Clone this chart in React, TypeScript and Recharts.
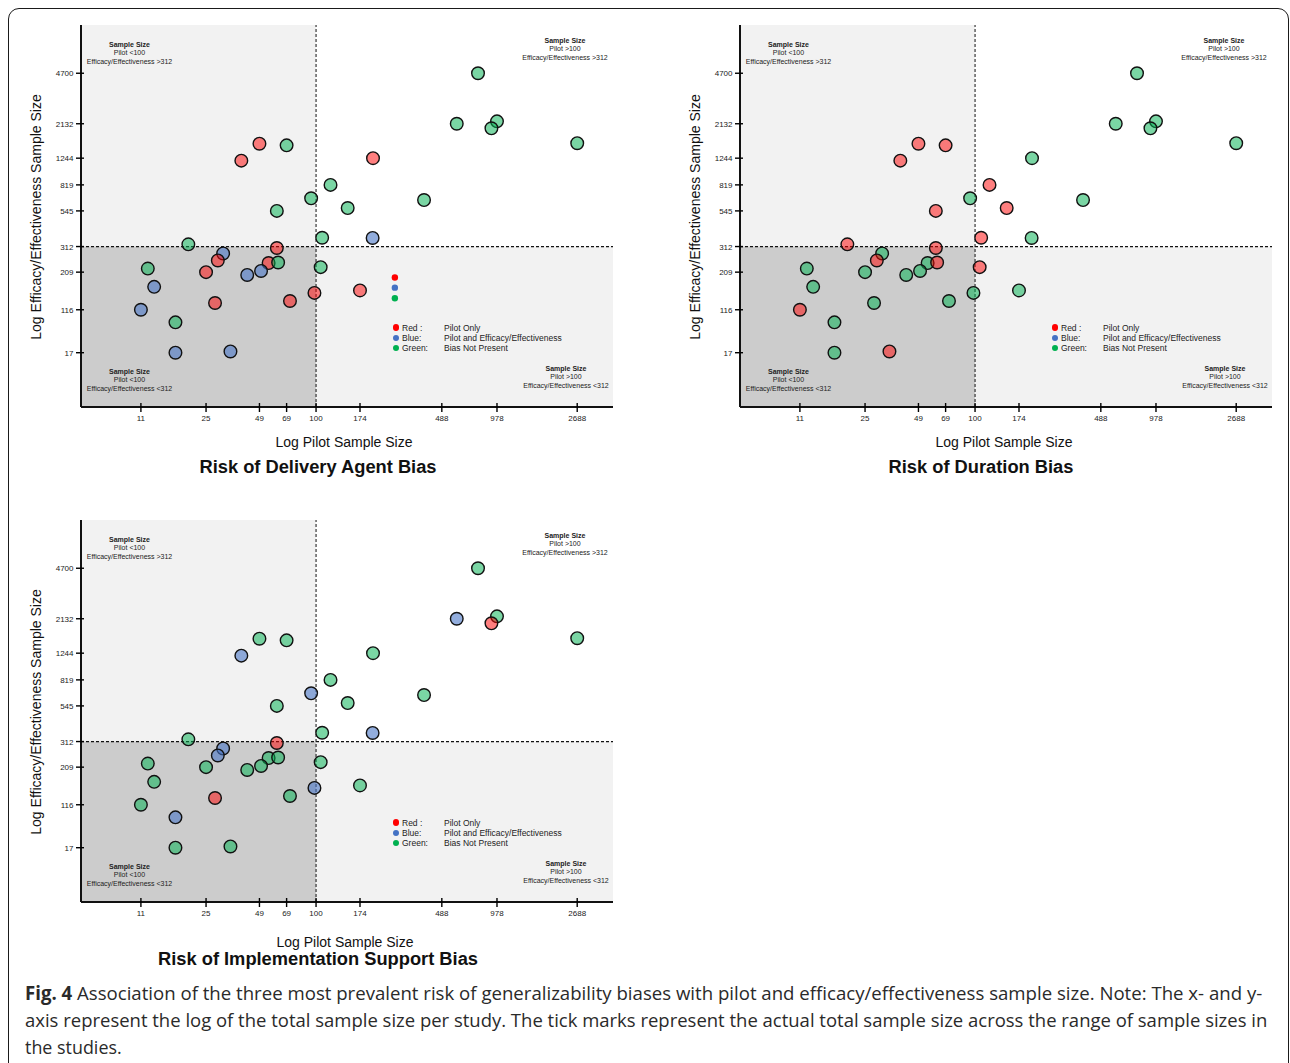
import React, { useLayoutEffect, useRef, useState } from 'react';
import { ScatterChart, Scatter, XAxis, YAxis, ReferenceArea, ReferenceLine } from 'recharts';

// ---- Data: the same 36 studies appear in every panel ----
const pilotSampleSize = [770, 589, 978, 912, 2688, 69, 120, 94, 149, 390, 61, 108, 20, 12, 106, 17, 49, 39, 205, 61, 55, 62, 25, 28, 72, 98, 174, 204, 31, 29, 42, 50, 13, 11, 17, 34];
const effSampleSize = [4700, 2132, 2213, 1985, 1572, 1520, 819, 664, 570, 646, 545, 358, 323, 221, 226, 66, 1560, 1197, 1244, 305, 241, 243, 209, 129, 133, 151, 157, 357, 280, 251, 200, 213, 166, 116, 17, 18];

// R = Pilot Only, B = Pilot and Efficacy/Effectiveness, G = Bias Not Present
const deliveryAgentBias = 'GGGGGGGGGGGGGGGGRRRRRGRRRRRBBRBBBBBB'.split('');
const durationBias = 'GGGGGRRGRGRRRGRGRRGRGRGGGGGGGRGGGRGR'.split('');
const implementationSupportBias = 'GBGRGGGBGGGGGGGBGBGRGGGRGBGBBBGGGGGG'.split('');

const xTickValues = [11, 25, 49, 69, 100, 174, 488, 978, 2688];
const yTickValues = [17, 116, 209, 312, 545, 819, 1244, 2132, 4700];
const xRange = [5.17, 4220];
const yRange = [1.5, 10000];
const pilotCut = 100;
const effCut = 312;

// stray key dots shown in the first panel
const keyDotsPilot = [270, 270, 270];
const keyDotsEff = [192, 164, 139];
const keyDotsCode = ['R', 'B', 'G'];

const legendNames = ['Red :', 'Blue:', 'Green:'];
const legendDescs = ['Pilot Only', 'Pilot and Efficacy/Effectiveness', 'Bias Not Present'];
const legendCodes = ['R', 'B', 'G'];

const captionLines = [
  'Association of the three most prevalent risk of generalizability biases with pilot and efficacy/effectiveness sample size. Note: The x- and y-',
  'axis represent the log of the total sample size per study. The tick marks represent the actual total sample size across the range of sample sizes in',
  'the studies.',
];

// ---- axis transforms (log axes; y axis compressed below 116) ----
const pilotPos = (v: number) => Math.log10(v);
const KNEE = Math.log10(116);
const effPos = (v: number) => {
  const l = Math.log10(v);
  return l >= KNEE ? l : KNEE - (KNEE - l) * 0.35;
};

const FONT = "'Liberation Sans', Arial, Helvetica, sans-serif";
const BUBBLE: Record<string, string> = {
  R: 'rgba(255,0,0,0.5)',
  B: 'rgba(68,114,196,0.58)',
  G: 'rgba(0,176,80,0.52)',
};
const SOLID: Record<string, string> = { R: '#ff0000', B: '#4472c4', G: '#00b050' };

const nearest = (vals: number[], f: (v: number) => number, p: number) => {
  let best = vals[0];
  let d = Infinity;
  vals.forEach((v) => {
    const dd = Math.abs(f(v) - p);
    if (dd < d) { d = dd; best = v; }
  });
  return best;
};

const XTick = (props: any) => {
  const { x, y, payload } = props;
  const label = nearest(xTickValues, pilotPos, payload.value);
  return (
    <g>
      <line x1={x} x2={x} y1={y - 4} y2={y + 5} stroke="#000" strokeWidth={1.4} />
      <text x={x} y={y + 14} textAnchor="middle" fontSize={8} fontFamily={FONT} fill="#222">{label}</text>
    </g>
  );
};

const YTick = (props: any) => {
  const { x, y, payload } = props;
  const label = nearest(yTickValues, effPos, payload.value);
  return (
    <g>
      <line x1={x - 5} x2={x + 3} y1={y} y2={y} stroke="#000" strokeWidth={1.4} />
      <text x={x - 7.5} y={y + 3} textAnchor="end" fontSize={8} fontFamily={FONT} fill="#222">{label}</text>
    </g>
  );
};

const StudyDot = (p: any) => (
  <circle cx={p.cx} cy={p.cy} r={6.3} fill={p.payload.tone} stroke="#111" strokeWidth={1.4} />
);
const KeyDot = (p: any) => <circle cx={p.cx} cy={p.cy} r={3.2} fill={p.payload.tone} />;

const Quadrant = ({ cx, y0, limit }: { cx: number; y0: number; limit: string }) => (
  <div style={{ position: 'absolute', left: cx - 80, top: y0 - 4.25, width: 160, textAlign: 'center', fontSize: 7, lineHeight: '8.5px', color: '#222', fontFamily: FONT, whiteSpace: 'nowrap' }}>
    <div style={{ fontWeight: 'bold' }}>Sample Size</div>
    <div>{limit.split('|')[0]}</div>
    <div>{limit.split('|')[1]}</div>
  </div>
);

type PanelProps = {
  left: number; top: number; codes: string[]; title: string;
  titleX: number; titleY: number; xTitleX: number; xTitleY: number; keyDots?: boolean;
};

function Panel({ left, top, codes, title, titleX, titleY, xTitleX, xTitleY, keyDots }: PanelProps) {
  const rows = pilotSampleSize.map((n, i) => ({ px: pilotPos(n), py: effPos(effSampleSize[i]), tone: BUBBLE[codes[i]] }));
  const keyRows = keyDotsPilot.map((n, i) => ({ px: pilotPos(n), py: effPos(keyDotsEff[i]), tone: SOLID[keyDotsCode[i]] }));
  const xd = [pilotPos(xRange[0]), pilotPos(xRange[1])];
  const yd = [effPos(yRange[0]), effPos(yRange[1])];
  const xc = pilotPos(pilotCut);
  const yc = effPos(effCut);
  return (
    <div style={{ position: 'absolute', left, top, width: 640, height: 480 }}>
      <ScatterChart width={640} height={430} margin={{ top: 25, right: 27, bottom: 0, left: 31 }} style={{ fontFamily: FONT }}>
        <ReferenceArea x1={xd[0]} x2={xc} y1={yc} y2={yd[1]} fill="#f2f2f2" fillOpacity={1} stroke="none" />
        <ReferenceArea x1={xd[0]} x2={xc} y1={yd[0]} y2={yc} fill="#cccccc" fillOpacity={1} stroke="none" />
        <ReferenceArea x1={xc} x2={xd[1]} y1={yd[0]} y2={yc} fill="#f2f2f2" fillOpacity={1} stroke="none" />
        <ReferenceLine x={xc} stroke="#111" strokeWidth={1} strokeDasharray="3 2" />
        <ReferenceLine y={yc} stroke="#111" strokeWidth={1.2} strokeDasharray="3 2" />
        <XAxis type="number" dataKey="px" domain={xd} ticks={xTickValues.map(pilotPos)} interval={0}
          tickSize={0} tickMargin={0} tick={<XTick />} height={23} allowDataOverflow
          axisLine={{ stroke: '#111', strokeWidth: 2 }} />
        <YAxis type="number" dataKey="py" domain={yd} ticks={yTickValues.map(effPos)} interval={0}
          tickSize={0} tickMargin={0} tick={<YTick />} width={50} allowDataOverflow
          axisLine={{ stroke: '#111', strokeWidth: 2 }} />
        <Scatter data={rows} shape={StudyDot} isAnimationActive={false} />
        {keyDots ? <Scatter data={keyRows} shape={KeyDot} isAnimationActive={false} /> : null}
      </ScatterChart>

      <Quadrant cx={129.5} y0={45} limit="Pilot <100|Efficacy/Effectiveness >312" />
      <Quadrant cx={565} y0={41} limit="Pilot >100|Efficacy/Effectiveness >312" />
      <Quadrant cx={129.5} y0={372} limit="Pilot <100|Efficacy/Effectiveness <312" />
      <Quadrant cx={566} y0={369} limit="Pilot >100|Efficacy/Effectiveness <312" />

      {legendCodes.map((c, i) => (
        <div key={c} style={{ position: 'absolute', left: 392, top: 327.5 + i * 10.4 - 5, height: 10, fontSize: 8.5, lineHeight: '10px', color: '#222', fontFamily: FONT, whiteSpace: 'nowrap' }}>
          <span style={{ position: 'absolute', left: 0.8, top: 1.8, width: 6.4, height: 6.4, borderRadius: '50%', background: SOLID[c] }} />
          <span style={{ position: 'absolute', left: 10 }}>{legendNames[i]}</span>
          <span style={{ position: 'absolute', left: 52 }}>{legendDescs[i]}</span>
        </div>
      ))}

      <div style={{ position: 'absolute', left: 36 - 150, top: 217 - 9, width: 300, height: 18, lineHeight: '18px', textAlign: 'center', fontSize: 14, color: '#111', fontFamily: FONT, transform: 'rotate(-90deg)', whiteSpace: 'nowrap' }}>
        Log Efficacy/Effectiveness Sample Size
      </div>
      <div style={{ position: 'absolute', left: xTitleX - 100, top: xTitleY - 7, width: 200, height: 14, lineHeight: '14px', textAlign: 'center', fontSize: 14, color: '#111', fontFamily: FONT, whiteSpace: 'nowrap' }}>
        Log Pilot Sample Size
      </div>
      <div style={{ position: 'absolute', left: titleX - 200, top: titleY - 8, width: 400, height: 17, lineHeight: '17px', textAlign: 'center', fontSize: 18.3, fontWeight: 'bold', color: '#111', fontFamily: FONT, whiteSpace: 'nowrap' }}>
        {title}
      </div>
    </div>
  );
}

// caption line squeezed horizontally to the reference's condensed width
function FitLine({ top, width, children }: { top: number; width: number; children: React.ReactNode }) {
  const ref = useRef<HTMLSpanElement>(null);
  const [k, setK] = useState(1);
  useLayoutEffect(() => {
    if (ref.current) {
      const w = ref.current.offsetWidth;
      if (w > 0) setK(width / w);
    }
  }, [width]);
  return (
    <span ref={ref} style={{ position: 'absolute', left: 25, top, whiteSpace: 'nowrap', fontFamily: "'Open Sans', 'Noto Sans', sans-serif", fontSize: 19, lineHeight: '22px', color: '#2a2a2a', transform: `scaleX(${k})`, transformOrigin: '0 0' }}>
      {children}
    </span>
  );
}

export default function App() {
  return (
    <div style={{ position: 'absolute', left: 0, top: 0, width: 1290, height: 1063, overflow: 'hidden', background: '#fff' }}>
      <div style={{ position: 'absolute', left: 8, top: 8, width: 1281, height: 1120, border: '1.5px solid #1a1a1a', borderRadius: 11, boxSizing: 'border-box' }} />
      <Panel left={0} top={0} codes={deliveryAgentBias} title="Risk of Delivery Agent Bias" titleX={318} titleY={466} xTitleX={344} xTitleY={442} keyDots />
      <Panel left={659} top={0} codes={durationBias} title="Risk of Duration Bias" titleX={322} titleY={466} xTitleX={345} xTitleY={442} />
      <Panel left={0} top={495} codes={implementationSupportBias} title="Risk of Implementation Support Bias" titleX={318} titleY={463} xTitleX={345} xTitleY={447} />
      <FitLine top={982} width={1237}><b>Fig. 4</b> {captionLines[0]}</FitLine>
      <FitLine top={1009} width={1242}>{captionLines[1]}</FitLine>
      <FitLine top={1036} width={97}>{captionLines[2]}</FitLine>
    </div>
  );
}
